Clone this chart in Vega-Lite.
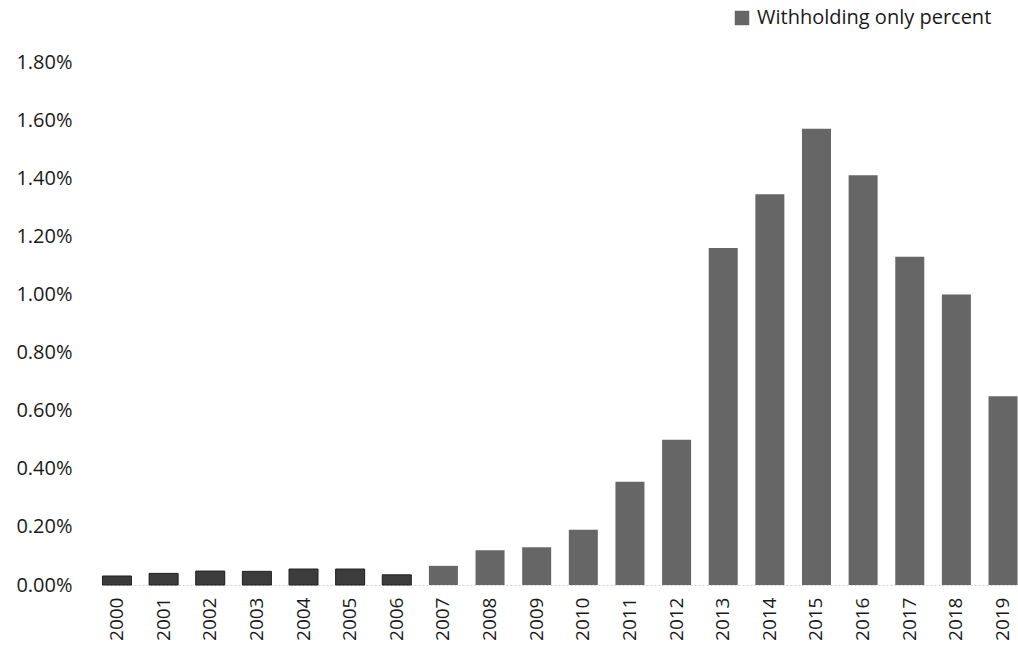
{
  "$schema": "https://vega.github.io/schema/vega-lite/v6.json",
  "autosize": {"type": "none"},
  "padding": {"left": 102, "top": 62, "right": 0, "bottom": 66},
  "width": 916,
  "height": 523,
  "background": "white",
  "config": {
    "view": {"stroke": null},
    "font": "Open Sans",
    "axis": {"labelFont": "Open Sans", "labelColor": "#1a1a1a"},
    "legend": {"labelFont": "Open Sans"}
  },
  "data": {
    "values": [
      {"year": "2000", "pct": 0.00031},
      {"year": "2001", "pct": 0.0004},
      {"year": "2002", "pct": 0.00048},
      {"year": "2003", "pct": 0.00047},
      {"year": "2004", "pct": 0.00055},
      {"year": "2005", "pct": 0.00055},
      {"year": "2006", "pct": 0.00035},
      {"year": "2007", "pct": 0.00066},
      {"year": "2008", "pct": 0.0012},
      {"year": "2009", "pct": 0.0013},
      {"year": "2010", "pct": 0.0019},
      {"year": "2011", "pct": 0.00355},
      {"year": "2012", "pct": 0.005},
      {"year": "2013", "pct": 0.0116},
      {"year": "2014", "pct": 0.01345},
      {"year": "2015", "pct": 0.0157},
      {"year": "2016", "pct": 0.0141},
      {"year": "2017", "pct": 0.0113},
      {"year": "2018", "pct": 0.01},
      {"year": "2019", "pct": 0.0065}
    ]
  },
  "encoding": {
    "x": {
      "field": "year",
      "type": "ordinal",
      "title": null,
      "scale": {"paddingInner": 0.378, "paddingOuter": 0.01},
      "axis": {
        "labelAngle": -90,
        "labelFontSize": 19,
        "labelPadding": 12,
        "ticks": false,
        "domain": true,
        "domainColor": "#d0d0d0",
        "domainWidth": 1,
        "domainDash": [2, 2]
      }
    },
    "y": {
      "field": "pct",
      "type": "quantitative",
      "title": null,
      "scale": {"domain": [0, 0.018], "nice": false},
      "axis": {
        "format": ".2%",
        "values": [0, 0.002, 0.004, 0.006, 0.008, 0.01, 0.012, 0.014, 0.016, 0.018],
        "labelFontSize": 20,
        "labelPadding": 30,
        "ticks": false,
        "domain": false,
        "grid": false
      }
    }
  },
  "layer": [
    {
      "mark": {"type": "bar"},
      "encoding": {
        "color": {
          "datum": "Withholding only percent",
          "type": "nominal",
          "scale": {"range": ["#666666"]},
          "legend": {
            "title": null,
            "orient": "none",
            "legendX": 630,
            "legendY": -54,
            "symbolType": "square",
            "symbolSize": 210,
            "labelFontSize": 20,
            "labelLimit": 400,
            "labelColor": "#1a1a1a",
            "labelOffset": 5
          }
        }
      }
    },
    {
      "transform": [{"filter": "toNumber(datum.year) <= 2006"}],
      "mark": {"type": "bar", "color": "#3c3c3c", "stroke": "#222222", "strokeWidth": 1}
    }
  ]
}
